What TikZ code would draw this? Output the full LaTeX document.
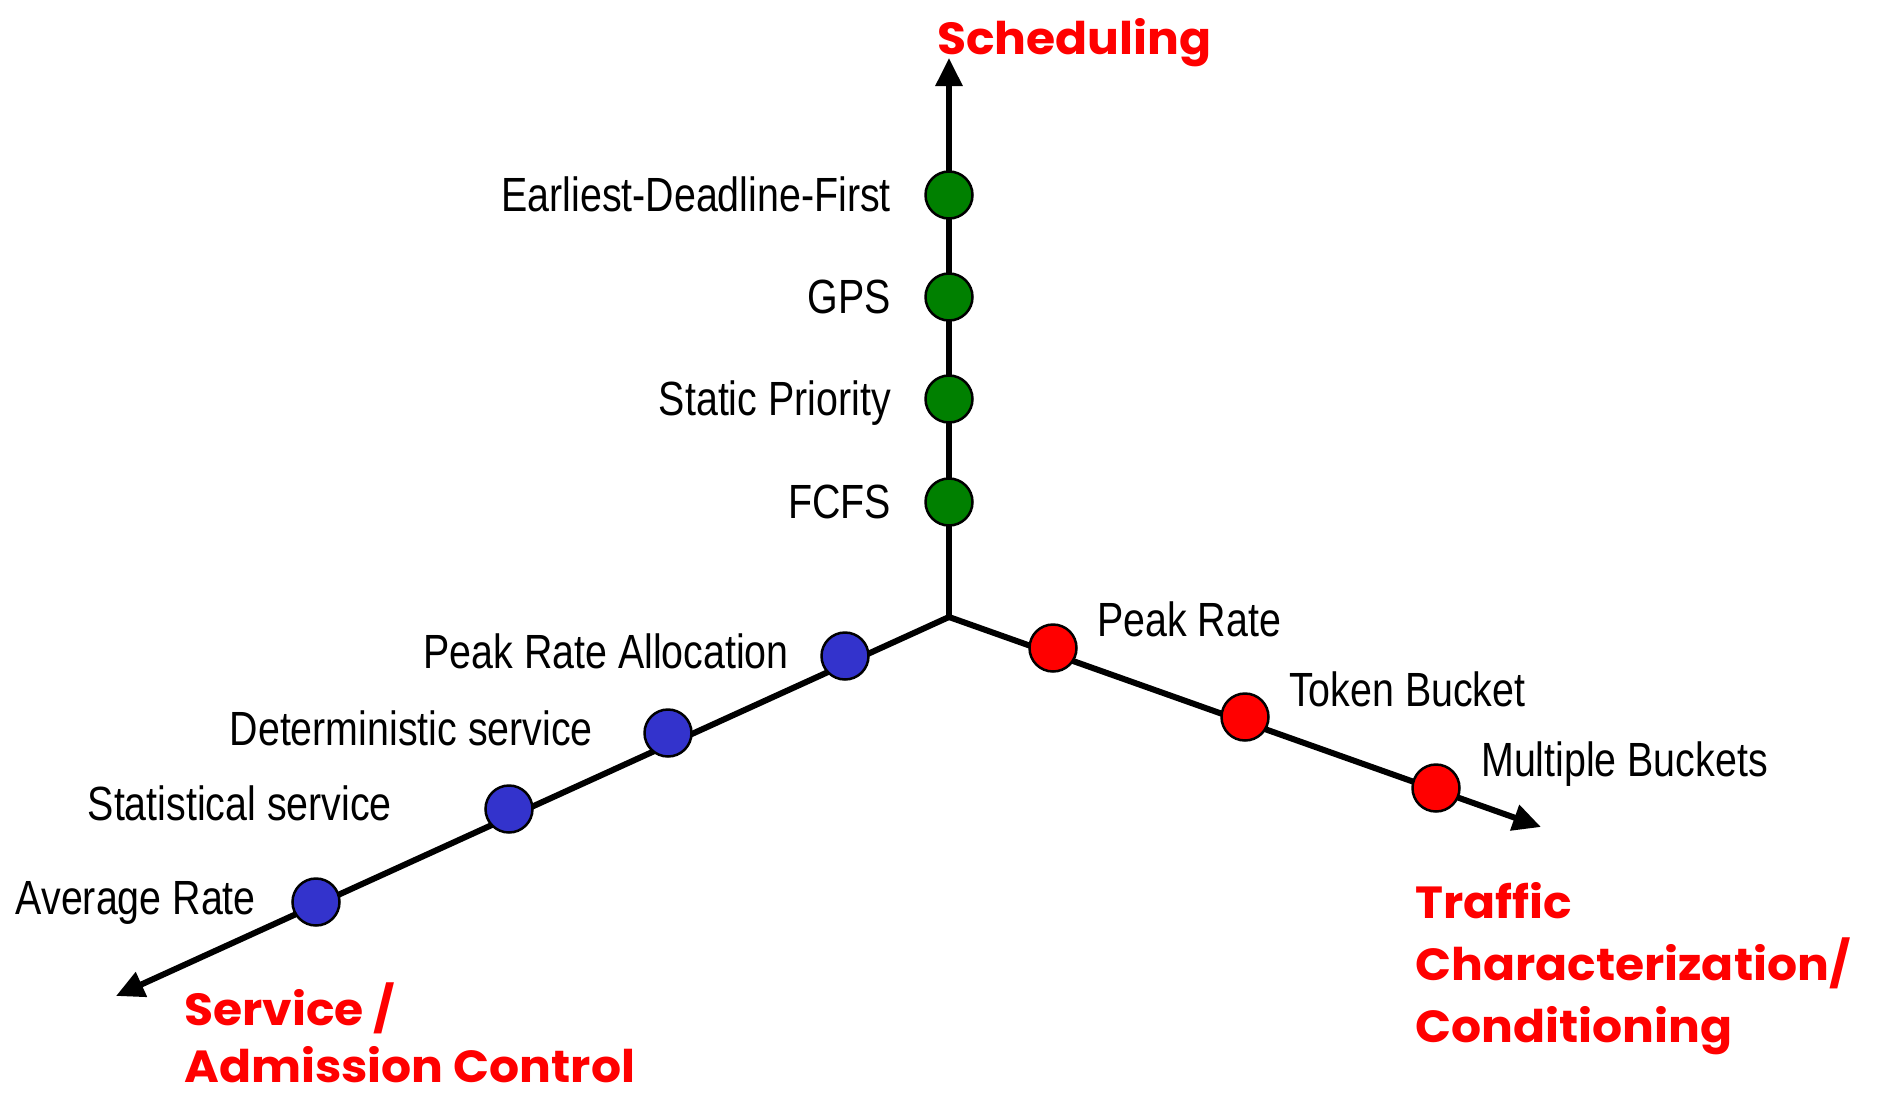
\documentclass[tikz,border=0pt]{standalone}
\usepackage{fontspec}
\usetikzlibrary{arrows.meta}
\newfontfamily\lblfont[FakeStretch=0.82]{Liberation Sans}
\newfontfamily\ttlfont[FakeStretch=1.05]{Poppins}
\definecolor{schedgreen}{RGB}{0,128,0}
\definecolor{trafred}{RGB}{255,0,0}
\definecolor{servblue}{RGB}{51,51,204}
\definecolor{titlered}{RGB}{255,0,0}
\tikzset{
  axisline/.style={line width=6pt, -{Triangle[length=28pt,width=26pt]}},
  dot/.style={circle, draw=black, line width=2.5pt, minimum size=47pt, inner sep=0pt},
  gdot/.style={dot, fill=schedgreen},
  rdot/.style={dot, fill=trafred},
  bdot/.style={dot, fill=servblue},
  lbl/.style={font=\lblfont\fontsize{48}{56}\selectfont, inner sep=0pt, text=black},
  lblL/.style={lbl, anchor=base east},
  lblR/.style={lbl, anchor=base west},
  ttl/.style={font=\ttlfont\bfseries\fontsize{45}{56}\selectfont, text=titlered, inner sep=0pt, anchor=base west}
}
\begin{document}
\begin{tikzpicture}[x=1pt,y=-1pt]
\useasboundingbox (0,0) rectangle (1883,1098);

% origin and the three axis ends
\coordinate (o) at (949,617);
\coordinate (schedTip) at (949,58);
\coordinate (trafTip) at (1541,827);
\coordinate (servTip) at (116,996);

\draw[axisline] (o) -- (schedTip);
\draw[axisline] (o) -- (trafTip);
\draw[axisline] (o) -- (servTip);

% scheduling axis
\node[gdot] (edf)  at (949,195) {};
\node[gdot] (gps)  at (949,297) {};
\node[gdot] (sp)   at (949,399) {};
\node[gdot] (fcfs) at (949,502) {};
\node[lblL] (edfL)  at (891,211) {Earliest-Deadline-First};
\node[lblL] (gpsL)  at (891,313) {GPS};
\node[lblL] (spL)   at (891,415) {Static Priority};
\node[lblL] (fcfsL) at (891,518) {FCFS};

% traffic axis
\node[rdot] (peak)  at (1053,648) {};
\node[rdot] (token) at (1245,717) {};
\node[rdot] (multi) at (1436,788) {};
\node[lblR] (peakL)  at (1097,636) {Peak Rate};
\node[lblR] (tokenL) at (1289,706) {Token Bucket};
\node[lblR] (multiL) at (1481,776) {Multiple Buckets};

% service axis
\node[bdot] (pra)  at (845,656) {};
\node[bdot] (det)  at (668,733) {};
\node[bdot] (stat) at (509,809) {};
\node[bdot] (avg)  at (316,902) {};
\node[lblL] (praL)  at (789,668) {Peak Rate Allocation};
\node[lblL] (detL)  at (593,745) {Deterministic service};
\node[lblL] (statL) at (392,820) {Statistical service};
\node[lblL] (avgL)  at (256,914) {Average Rate};

% axis titles
\node[ttl] (schedT)  at (937,54) {Scheduling};
\node[ttl] (trafT1)  at (1415,918) {Traffic};
\node[ttl] (trafT2)  at (1415,980) {Characterization/};
\node[ttl] (trafT3)  at (1415,1042) {Conditioning};
\node[ttl] (servT1)  at (184,1025) {Service /};
\node[ttl] (servT2)  at (184,1082) {Admission Control};
\end{tikzpicture}
\end{document}
